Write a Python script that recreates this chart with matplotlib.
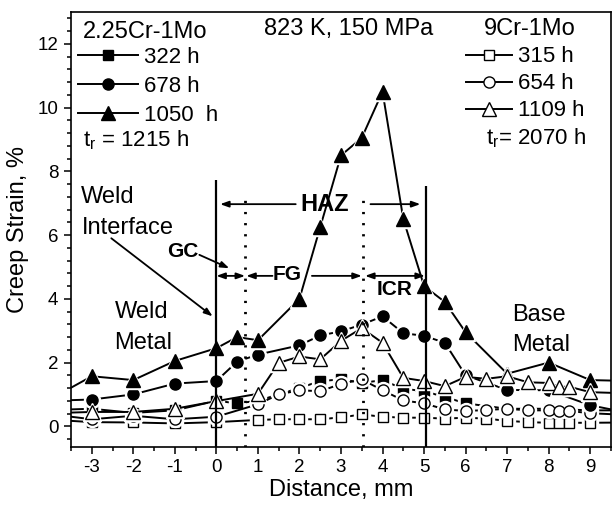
import matplotlib
matplotlib.use('Agg')
import matplotlib.pyplot as plt
from matplotlib.lines import Line2D
from matplotlib.ticker import MultipleLocator

plt.rcParams['font.family'] = ['Liberation Sans', 'DejaVu Sans']
plt.rcParams['axes.unicode_minus'] = False
plt.rcParams['mathtext.fontset'] = 'custom'
plt.rcParams['mathtext.rm'] = 'Liberation Sans'
plt.rcParams['mathtext.it'] = 'Liberation Sans:italic'

# ---------------- data (distance in mm, creep strain in %) ----------------
# 2.25Cr-1Mo, 322 h (filled squares)
x_s322 = [-4, -3, -2, -1, 0, 0.5, 1, 1.5, 2, 2.5, 3, 3.5, 4, 4.5, 5, 5.5, 6, 7, 8, 9, 10]
y_s322 = [0.51, 0.55, 0.42, 0.5, 0.8, 0.72, 0.8, 1.0, 1.2, 1.42, 1.47, 1.37, 1.44, 1.18, 1.1, 0.92, 0.72, 0.55, 0.55, 0.5, 0.5]
# 2.25Cr-1Mo, 678 h (filled circles)
x_c678 = [-4, -3, -2, -1, 0, 0.5, 1, 2, 2.5, 3, 3.5, 4, 4.5, 5, 5.5, 6, 7, 8, 9, 10]
y_c678 = [0.8, 0.84, 1.0, 1.34, 1.42, 2.03, 2.25, 2.54, 2.85, 2.98, 3.19, 3.45, 2.92, 2.84, 2.62, 1.6, 1.14, 1.13, 0.66, 0.4]
# 2.25Cr-1Mo, 1050 h (filled triangles)
x_t1050 = [-4, -3, -2, -1, 0, 0.5, 1, 2, 2.5, 3, 3.5, 4, 4.5, 5, 5.5, 6, 7, 8, 9, 10]
y_t1050 = [0.85, 1.57, 1.45, 2.05, 2.45, 2.8, 2.7, 4.0, 6.25, 8.5, 9.05, 10.5, 6.5, 4.4, 3.9, 2.95, 1.65, 2.0, 1.45, 1.42]
# 9Cr-1Mo, 315 h (open squares)
x_s315 = [-4, -3, -2, -1, 0, 1, 1.5, 2, 2.5, 3, 3.5, 4, 4.5, 5, 5.5, 6, 6.5, 7, 7.5, 8, 8.25, 8.5, 9, 10]
y_s315 = [0.21, 0.13, 0.12, 0.09, 0.13, 0.2, 0.22, 0.22, 0.22, 0.28, 0.37, 0.3, 0.27, 0.27, 0.24, 0.27, 0.24, 0.17, 0.13, 0.11, 0.11, 0.11, 0.11, 0.12]
# 9Cr-1Mo, 654 h (open circles)
x_c654 = [-4, -3, -2, -1, 0, 1, 1.5, 2, 2.5, 3, 3.5, 4, 4.5, 5, 5.5, 6, 6.5, 7, 7.5, 8, 8.25, 8.5, 9, 10]
y_c654 = [0.38, 0.22, 0.33, 0.22, 0.3, 0.69, 1.0, 1.13, 1.1, 1.33, 1.47, 1.13, 0.81, 0.72, 0.53, 0.48, 0.51, 0.55, 0.5, 0.5, 0.48, 0.48, 0.41, 0.35]
# 9Cr-1Mo, 1109 h (open triangles)
x_t1109 = [-4, -3, -2, -1, 0, 1, 1.5, 2, 2.5, 3, 3.5, 4, 4.5, 5, 5.5, 6, 6.5, 7, 7.5, 8, 8.25, 8.5, 9, 10]
y_t1109 = [0.41, 0.45, 0.45, 0.55, 0.79, 1.02, 1.99, 2.19, 2.1, 2.68, 3.08, 2.62, 1.52, 1.42, 1.26, 1.55, 1.49, 1.57, 1.38, 1.36, 1.24, 1.24, 1.07, 1.03]

labels_low = ['322 h', '678 h', '1050  h']
labels_high = ['315 h', '654 h', '1109 h']
x_ticks = [-3, -2, -1, 0, 1, 2, 3, 4, 5, 6, 7, 8, 9]
y_ticks = [0, 2, 4, 6, 8, 10, 12]

# zone boundaries (mm)
solid_bounds = [0, 5.05]
solid_tops = [7.72, 7.53]
dotted_bounds = [0.69, 3.54]
dotted_top = 7.2

# ---------------- figure ----------------
fig = plt.figure(figsize=(6.12, 5.08), dpi=100)
ax = fig.add_axes([71 / 612, 1 - 447 / 508, 540 / 612, 435 / 508])
ax.set_xlim(-3.5, 9.5)
ax.set_ylim(-0.65, 13)

series = [
    (x_s315, y_s315, 's', False, 7.5),
    (x_s322, y_s322, 's', True, 7.5),
    (x_c654, y_c654, 'o', False, 8),
    (x_c678, y_c678, 'o', True, 8),
    (x_t1050, y_t1050, '^', True, 9.5),
    (x_t1109, y_t1109, '^', False, 9.5),
]
for i, (xs, ys, mk, filled, ms) in enumerate(series):
    z = 2 + i * 0.5
    ax.plot(xs, ys, '-', color='k', lw=1.4, zorder=z)
    ax.plot(xs, ys, linestyle='none', marker=mk, ms=ms + 3.5, mfc='white',
            mec='white', zorder=z + 0.1)
    ax.plot(xs, ys, linestyle='none', marker=mk, ms=ms,
            mfc='k' if filled else 'white', mec='k', mew=1.0, zorder=z + 0.2)

# zone lines
ymin = ax.get_ylim()[0]
ax.vlines(solid_bounds, ymin, solid_tops, colors='k', lw=1.6, zorder=6)
ax.vlines(dotted_bounds, ymin, dotted_top, colors='k', lw=2.0,
          linestyles=[(0, (0.8, 3.2))], zorder=6)

# axes styling
for sp in ax.spines.values():
    sp.set_linewidth(1.2)
ax.xaxis.set_major_locator(MultipleLocator(1))
ax.xaxis.set_minor_locator(MultipleLocator(0.5))
ax.yaxis.set_major_locator(MultipleLocator(2))
ax.yaxis.set_minor_locator(MultipleLocator(0.4))
ax.set_xticks(x_ticks)
ax.set_yticks(y_ticks)
ax.tick_params(which='both', direction='out', top=False, right=False, width=1.1)
ax.tick_params(which='major', length=5, labelsize=13.5, pad=4)
ax.tick_params(which='minor', length=3)
ax.set_xlabel('Distance, mm', fontsize=17, labelpad=2)
ax.set_ylabel('Creep Strain, %', fontsize=17, labelpad=6)

FS = 17
FL = 16
# legends
h_low = [Line2D([], [], color='k', lw=1.4, marker=m, ms=s, mfc='k', mec='k')
         for m, s in [('s', 7.5), ('o', 8), ('^', 9.5)]]
h_high = [Line2D([], [], color='k', lw=1.4, marker=m, ms=s, mfc='white', mec='k', mew=1.0)
          for m, s in [('s', 7.5), ('o', 8), ('^', 9.5)]]
leg1 = ax.legend(h_low, labels_low, loc='upper left', bbox_to_anchor=(-3.33, 11.9),
                 bbox_transform=ax.transData, frameon=False, fontsize=FL,
                 handlelength=2.7, handletextpad=0.25, labelspacing=0.36,
                 borderpad=0, borderaxespad=0, numpoints=1)
ax.add_artist(leg1)
leg2 = ax.legend(h_high, labels_high, loc='upper left', bbox_to_anchor=(6.0, 11.92),
                 bbox_transform=ax.transData, frameon=False, fontsize=FL,
                 handlelength=2.1, handletextpad=0.25, labelspacing=0.27,
                 borderpad=0, borderaxespad=0, numpoints=1)

ax.text(-3.22, 12.38, '2.25Cr-1Mo', ha='left', va='center', fontsize=FS)
ax.text(-3.22, 8.98, r'$\mathregular{t_r}$ = 1215 h', ha='left', va='center', fontsize=FL)
ax.text(7.55, 12.46, '9Cr-1Mo', ha='center', va='center', fontsize=FS)
ax.text(6.5, 9.05, r'$\mathregular{t_r}$= 2070 h', ha='left', va='center', fontsize=FL)
ax.text(5.21, 12.46, '823 K, 150 MPa', ha='right', va='center', fontsize=FS)

# region labels
ax.text(-3.25, 7.19, 'Weld', ha='left', va='center', fontsize=FS)
ax.text(-3.25, 6.22, 'Interface', ha='left', va='center', fontsize=FS)
ax.text(-2.45, 3.6, 'Weld', ha='left', va='center', fontsize=FS)
ax.text(-2.45, 2.6, 'Metal', ha='left', va='center', fontsize=FS)
ax.text(7.11, 3.5, 'Base', ha='left', va='center', fontsize=FS)
ax.text(7.11, 2.56, 'Metal', ha='left', va='center', fontsize=FS)

ax.text(2.61, 6.97, 'HAZ', ha='center', va='center', fontsize=17, fontweight='bold')
ax.text(1.71, 4.77, 'FG', ha='center', va='center', fontsize=15, fontweight='bold')
ax.text(4.3, 4.28, 'ICR', ha='center', va='center', fontsize=15, fontweight='bold')
ax.text(-0.82, 5.48, 'GC', ha='center', va='center', fontsize=15, fontweight='bold')

def arrow(x0, y0, x1, y1, style='-|>'):
    ax.annotate('', xy=(x1, y1), xytext=(x0, y0),
                arrowprops=dict(arrowstyle=style + ',head_length=0.5,head_width=0.18',
                                lw=1.3, color='k', shrinkA=0, shrinkB=0), zorder=7)

y_haz = 6.97
arrow(1.91, y_haz, 0.09, y_haz)
arrow(3.71, y_haz, 4.91, y_haz)
y_fg = 4.72
arrow(0.0, y_fg, 0.69, y_fg, '<|-|>')
arrow(1.35, y_fg, 0.72, y_fg)
arrow(2.3, y_fg, 3.5, y_fg)
arrow(3.58, y_fg, 5.02, y_fg, '<|-|>')
arrow(-0.41, 5.38, 0.31, 4.96)
arrow(-2.53, 5.9, -0.09, 3.45)

fig.savefig('out.png', dpi=100)
